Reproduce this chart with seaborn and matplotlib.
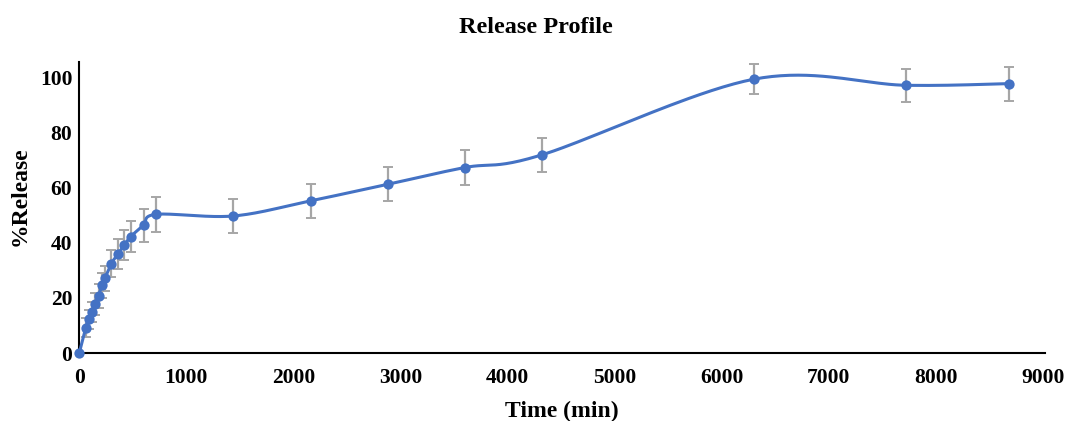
import numpy as np
import pandas as pd
import matplotlib
matplotlib.use("Agg")
import matplotlib.pyplot as plt
import seaborn as sns

# Sampling times (min), cumulative release (%) and standard deviation
time_min = [0, 60, 90, 120, 150, 180, 210, 240, 300, 360, 420, 480, 600, 720,
            1440, 2160, 2880, 3600, 4320, 6300, 7720, 8680]
release_pct = [0, 9.2, 12.2, 14.9, 17.7, 20.7, 24.6, 27.2, 32.5, 35.9, 39.2, 42.3,
               46.4, 50.4, 49.8, 55.3, 61.3, 67.4, 72.0, 99.5, 97.3, 97.9]
release_sd = [0, 3.4, 3.5, 3.6, 4.0, 4.2, 4.5, 4.6, 5.0, 5.4, 5.5, 5.7,
              5.9, 6.3, 6.2, 6.2, 6.2, 6.2, 6.2, 5.5, 6.0, 6.2]
x_ticks = [0, 1000, 2000, 3000, 4000, 5000, 6000, 7000, 8000, 9000]
y_ticks = [0, 20, 40, 60, 80, 100]

BLUE = "#4472C4"
GREY = "#A6A6A6"


def smooth_curve(x, y, n=40):
    """Catmull-Rom (cubic Bezier) smoothing through every point."""
    p = np.column_stack([x, y]).astype(float)
    ext = np.vstack([p[0], p, p[-1]])
    out = []
    t = np.linspace(0, 1, n)[:, None]
    for i in range(1, len(ext) - 2):
        p0, p1, p2, p3 = ext[i - 1], ext[i], ext[i + 1], ext[i + 2]
        c1 = p1 + (p2 - p0) / 6.0
        c2 = p2 - (p3 - p1) / 6.0
        seg = ((1 - t) ** 3) * p1 + 3 * ((1 - t) ** 2) * t * c1 \
            + 3 * (1 - t) * t ** 2 * c2 + t ** 3 * p2
        out.append(seg if i == 1 else seg[1:])
    return np.vstack(out)


df = pd.DataFrame({"time": time_min, "release": release_pct, "sd": release_sd})
curve = smooth_curve(df["time"].values, df["release"].values)
curve_df = pd.DataFrame({"time": curve[:, 0], "release": curve[:, 1]})

sns.set_style("white")
plt.rcParams["font.family"] = ["Liberation Serif", "DejaVu Serif"]
plt.rcParams["font.weight"] = "bold"
plt.rcParams["text.color"] = "black"
plt.rcParams["axes.labelcolor"] = "black"
plt.rcParams["xtick.color"] = "black"
plt.rcParams["ytick.color"] = "black"

fig = plt.figure(figsize=(10.67, 4.21), dpi=100)
ax = fig.add_axes([0.0743, 0.1615, 0.9047, 0.6915])

ax.errorbar(df["time"], df["release"], yerr=df["sd"], fmt="none",
            ecolor=GREY, elinewidth=1.6, capsize=3.5, capthick=1.4, zorder=2)
sns.lineplot(data=curve_df, x="time", y="release", ax=ax, color=BLUE,
             linewidth=2.2, sort=False, estimator=None, zorder=3)
sns.scatterplot(data=df, x="time", y="release", ax=ax, color=BLUE, s=55,
                edgecolor=BLUE, linewidth=0, zorder=4, clip_on=False)

ax.set_xlim(0, 9017)
ax.set_ylim(0, 105.8)
ax.set_xticks(x_ticks)
ax.set_yticks(y_ticks)
ax.set_xticklabels([str(v) for v in x_ticks], fontsize=15.5, fontweight="bold")
ax.set_yticklabels([str(v) for v in y_ticks], fontsize=15.5, fontweight="bold")
ax.tick_params(axis="both", length=0)
ax.tick_params(axis="x", pad=11)
ax.tick_params(axis="y", pad=5)

for side in ("top", "right"):
    ax.spines[side].set_visible(False)
for side in ("left", "bottom"):
    ax.spines[side].set_color("black")
    ax.spines[side].set_linewidth(1.5)

ax.set_xlabel("Time (min)", fontsize=17, fontweight="bold", labelpad=9)
ax.set_ylabel("%Release", fontsize=17, fontweight="bold")
ax.yaxis.set_label_coords(-0.05, 0.54)
fig.suptitle("Release Profile", fontsize=17.5, fontweight="bold", x=0.502, y=0.96)

fig.savefig("out.png", dpi=100)
